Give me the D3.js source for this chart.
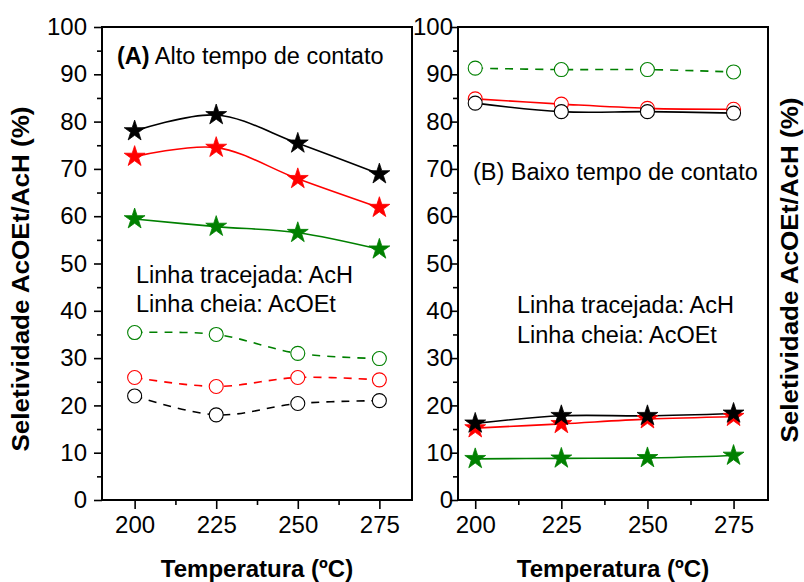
<!DOCTYPE html>
<html><head><meta charset="utf-8">
<script src="https://cdn.jsdelivr.net/npm/d3@7"></script>
<style>
body{margin:0;background:#fff;}
svg{display:block;font-family:"Liberation Sans",Arial,sans-serif;}
</style></head>
<body><svg id="c" width="804" height="582"></svg>
<script>
const temps = [200, 225, 250, 275];
const minorTemps = [212.5, 237.5, 262.5];
const yMajor = [0,10,20,30,40,50,60,70,80,90,100];
const yMinor = [5,15,25,35,45,55,65,75,85,95];

// Panel A (Alto tempo de contato)
const aStarBlack  = [78.0, 81.4, 75.4, 68.9];
const aStarRed    = [72.6, 74.5, 67.9, 61.8];
const aStarGreen  = [59.4, 57.8, 56.5, 53.0];
const aCircGreen  = [35.4, 35.0, 31.0, 29.9];
const aCircRed    = [25.9, 24.0, 25.9, 25.4];
const aCircBlack  = [22.0, 18.0, 20.4, 21.0];

// Panel B (Baixo tempo de contato)
const bCircGreen  = [91.3, 91.0, 91.0, 90.5];
const bCircRed    = [84.8, 83.7, 82.8, 82.6];
const bCircBlack  = [83.9, 82.1, 82.1, 81.8];
const bStarBlack  = [16.2, 17.8, 17.8, 18.3];
const bStarRed    = [15.2, 16.1, 17.1, 17.6];
const bStarGreen  = [8.7, 8.8, 8.9, 9.4];

const BLACK = "#000000", RED = "#ff0000", GREEN = "#008000";

const svg = d3.select("#c");
const y = d3.scaleLinear().domain([0,100]).range([500,27]);

const panels = [
  {x0:102, x1:412, dom:[190,285],
   series:[
    {v:aCircGreen, c:GREEN, m:"circle", dash:true},
    {v:aCircRed, c:RED, m:"circle", dash:true},
    {v:aCircBlack, c:BLACK, m:"circle", dash:true},
    {v:aStarGreen, c:GREEN, m:"star"},
    {v:aStarRed, c:RED, m:"star"},
    {v:aStarBlack, c:BLACK, m:"star"}]},
  {x0:458, x1:768, dom:[195,285],
   series:[
    {v:bCircGreen, c:GREEN, m:"circle", dash:true},
    {v:bCircRed, c:RED, m:"circle", dash:false},
    {v:bCircBlack, c:BLACK, m:"circle", dash:false},
    {v:bStarGreen, c:GREEN, m:"star"},
    {v:bStarRed, c:RED, m:"star"},
    {v:bStarBlack, c:BLACK, m:"star"}]}
];

const star = d3.symbol().type(d3.symbolStar).size(135);

panels.forEach((p, pi) => {
  const x = d3.scaleLinear().domain(p.dom).range([p.x0, p.x1]);
  const g = svg.append("g");

  // x axis
  const xa = g.append("g").attr("transform","translate(0,500)")
    .call(d3.axisBottom(x).tickValues(temps).tickSize(9).tickSizeOuter(0).tickPadding(7));
  xa.select(".domain").remove();
  xa.selectAll("line").attr("stroke","#000").attr("stroke-width",1.6);
  xa.selectAll("text").attr("font-size",24).attr("fill","#000").attr("dy","0.71em")
    .attr("font-family","Liberation Sans, Arial, sans-serif");
  const xm = g.append("g").attr("transform","translate(0,500)")
    .call(d3.axisBottom(x).tickValues(minorTemps).tickSize(5).tickSizeOuter(0).tickFormat(""));
  xm.select(".domain").remove();
  xm.selectAll("line").attr("stroke","#000").attr("stroke-width",1.6);

  // y axis
  const ya = g.append("g").attr("transform",`translate(${p.x0},0)`)
    .call(d3.axisLeft(y).tickValues(yMajor).tickSize(8).tickSizeOuter(0).tickPadding(pi===0?7:-3));
  ya.select(".domain").remove();
  ya.selectAll("line").attr("stroke","#000").attr("stroke-width",1.6);
  ya.selectAll("text").attr("font-size",24).attr("fill","#000")
    .attr("font-family","Liberation Sans, Arial, sans-serif");
  const ym = g.append("g").attr("transform",`translate(${p.x0},0)`)
    .call(d3.axisLeft(y).tickValues(yMinor).tickSize(5).tickSizeOuter(0).tickFormat(""));
  ym.select(".domain").remove();
  ym.selectAll("line").attr("stroke","#000").attr("stroke-width",1.6);

  // frame
  g.append("rect").attr("x",p.x0).attr("y",y(100)).attr("width",p.x1-p.x0).attr("height",y(0)-y(100))
    .attr("fill","none").attr("stroke","#000").attr("stroke-width",2);

  const line = d3.line().x((d,i)=>x(temps[i])).y(d=>y(d)).curve(d3.curveCatmullRom.alpha(0.5));

  p.series.forEach(s => {
    g.append("path").attr("d", line(s.v)).attr("fill","none").attr("stroke", s.c)
      .attr("stroke-width",1.6).attr("stroke-dasharray", s.dash ? "8,7" : null);
  });
  p.series.forEach(s => {
    const mg = g.append("g");
    if (s.m === "circle") {
      mg.selectAll("circle").data(s.v).join("circle")
        .attr("cx",(d,i)=>x(temps[i])).attr("cy",d=>y(d)).attr("r",7)
        .attr("fill","#fff").attr("stroke",s.c).attr("stroke-width",1.1);
    } else {
      mg.selectAll("path").data(s.v).join("path")
        .attr("d", star())
        .attr("transform",(d,i)=>`translate(${x(temps[i])},${y(d)})`)
        .attr("fill",s.c).attr("stroke",s.c).attr("stroke-width",0.8);
    }
  });

  // x title
  svg.append("text").attr("x",(p.x0+p.x1)/2).attr("y",577).attr("text-anchor","middle")
    .attr("font-size",24).attr("font-weight","bold").text("Temperatura (ºC)");
});

// y titles
svg.append("text").attr("transform","translate(29,279) rotate(-90)").attr("text-anchor","middle")
  .attr("font-size",24.5).attr("font-weight","bold")
  .attr("textLength",345).attr("lengthAdjust","spacingAndGlyphs")
  .text("Seletividade AcOEt/AcH (%)");
svg.append("text").attr("transform","translate(798,270) rotate(-90)").attr("text-anchor","middle")
  .attr("font-size",24.5).attr("font-weight","bold")
  .attr("textLength",345).attr("lengthAdjust","spacingAndGlyphs")
  .text("Seletividade AcOEt/AcH (%)");

// annotations
const tA = svg.append("text").attr("x",117).attr("y",64).attr("font-size",23.5);
tA.append("tspan").attr("font-weight","bold").text("(A)");
tA.append("tspan").text(" Alto tempo de contato");
svg.append("text").attr("x",136).attr("y",283).attr("font-size",23.5).text("Linha tracejada: AcH");
svg.append("text").attr("x",136).attr("y",312).attr("font-size",23.5).text("Linha cheia: AcOEt");

svg.append("text").attr("x",473).attr("y",180).attr("font-size",23.5).text("(B) Baixo tempo de contato");
svg.append("text").attr("x",517).attr("y",313).attr("font-size",23.5).text("Linha tracejada: AcH");
svg.append("text").attr("x",517).attr("y",343).attr("font-size",23.5).text("Linha cheia: AcOEt");
</script></body></html>
